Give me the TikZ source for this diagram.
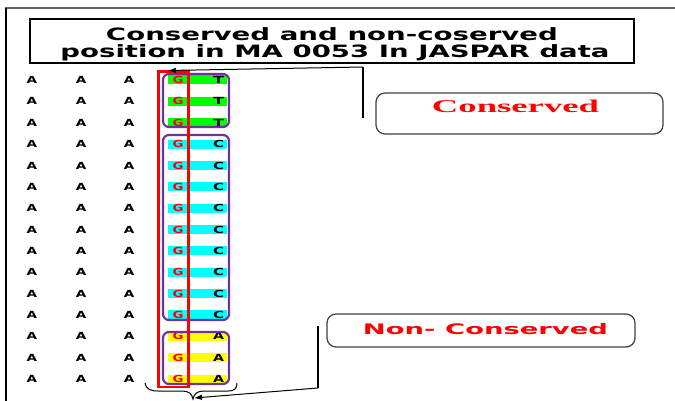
\documentclass[tikz,border=0pt]{standalone}
\usepackage{fontspec}
\usepackage{graphicx}
\newfontfamily\vsans{DejaVu Sans}
\newfontfamily\tserif{Liberation Serif}
\usetikzlibrary{arrows.meta}
\definecolor{purp}{HTML}{7030A0}
\definecolor{cgreen}{HTML}{00FF00}
\definecolor{ccyan}{HTML}{00FFFF}
\definecolor{cyell}{HTML}{FFFF00}
\newcommand\fitw[2]{\resizebox{#1}{\height}{#2}}
\tikzset{
  letter/.style={inner sep=0pt, font=\fontsize{9.8}{10}\vsans\bfseries},
  grp/.style={draw=purp, line width=2.2pt, rounded corners=6pt},
  label box/.style={draw=black!75, line width=1.2pt, rounded corners=9pt, inner sep=0pt},
  vbar/.style={line width=2.2pt},
  conn/.style={line width=1pt, -{Latex[length=8pt,width=5.5pt]}},
  txt/.style={inner sep=0pt, anchor=base},
}
\begin{document}
\begin{tikzpicture}[x=1pt,y=-1pt]
\useasboundingbox (0,0) rectangle (675,401);
\fill[white] (0,0) rectangle (675,401);
% frame
\draw[line width=2pt, black!60] (5,8) -- (675,8);
\draw[line width=2.5pt] (6,8) -- (6,401);
% title
\node[draw, line width=1.8pt, minimum width=604pt, minimum height=44pt, inner sep=0pt] (title) at (332,41) {};
\node[txt] (t1) at (332,40.5) {\fontsize{17}{17}\vsans\bfseries\fitw{452pt}{Conserved and non-coserved}};
\node[txt] (t2) at (335,58) {\fontsize{17}{17}\vsans\bfseries\fitw{549pt}{position in MA 0053 In JASPAR data}};
% rows
\foreach \i in {0,...,14}{
  \pgfmathsetmacro\yy{80+\i*21.36}
  \ifnum\i<3 \def\barc{cgreen}\def\secl{T}\else\ifnum\i<12 \def\barc{ccyan}\def\secl{C}\else\def\barc{cyell}\def\secl{A}\fi\fi
  \fill[\barc] (168,\yy-4.5) rectangle (227,\yy+4.5);
  \node[letter] (a1-\i) at (32,\yy) {\fitw{10.5pt}{A}};
  \node[letter] (a2-\i) at (81,\yy) {\fitw{10.5pt}{A}};
  \node[letter] (a3-\i) at (129,\yy) {\fitw{10.5pt}{A}};
  \node[letter, text=red] (g-\i) at (178,\yy) {\fitw{11pt}{G}};
  \node[letter] (s-\i) at (218.5,\yy) {\fitw{11pt}{\secl}};
}
% groups
\draw[grp] (163,74) rectangle (229,127);
\draw[grp] (163,135) rectangle (229,320);
\draw[grp] (163,332) rectangle (229,384);
% red column
\draw[red, line width=2.8pt] (158.5,71.5) rectangle (188.5,387);
% label boxes
\node[label box, minimum width=287pt, minimum height=41pt] (cons) at (519.5,113.5) {};
\node[txt] (constxt) at (515.5,113) {\color{red}\fontsize{18}{18}\tserif\bfseries\fitw{167pt}{Conserved}};
\node[label box, minimum width=308pt, minimum height=33pt] (ncons) at (481,330.5) {};
\node[txt] (nconstxt) at (485.5,334.5) {\color{red}\fontsize{14.5}{14.5}\vsans\bfseries\fitw{245pt}{Non- Conserved}};
% brace
\draw[line width=1pt] (145,383) .. controls (146,389) and (150,391) .. (158,391) -- (182,391) .. controls (189,391) and (192,394) .. (193,399) .. controls (194,394) and (197,391) .. (204,391) -- (228,391) .. controls (235,391) and (237,388) .. (237,383);
% connectors
\coordinate (c1a) at (363,118);
\coordinate (c1b) at (363,67);
\coordinate (tip1) at (168,70.5);
\draw[vbar] (c1a) -- (c1b);
\draw[conn] (c1b) -- (tip1);
\coordinate (c2a) at (318,326);
\coordinate (c2b) at (318,388);
\coordinate (tip2) at (194,398);
\draw[vbar] (c2a) -- (c2b);
\draw[conn] (c2b) -- (tip2);
\end{tikzpicture}
\end{document}
